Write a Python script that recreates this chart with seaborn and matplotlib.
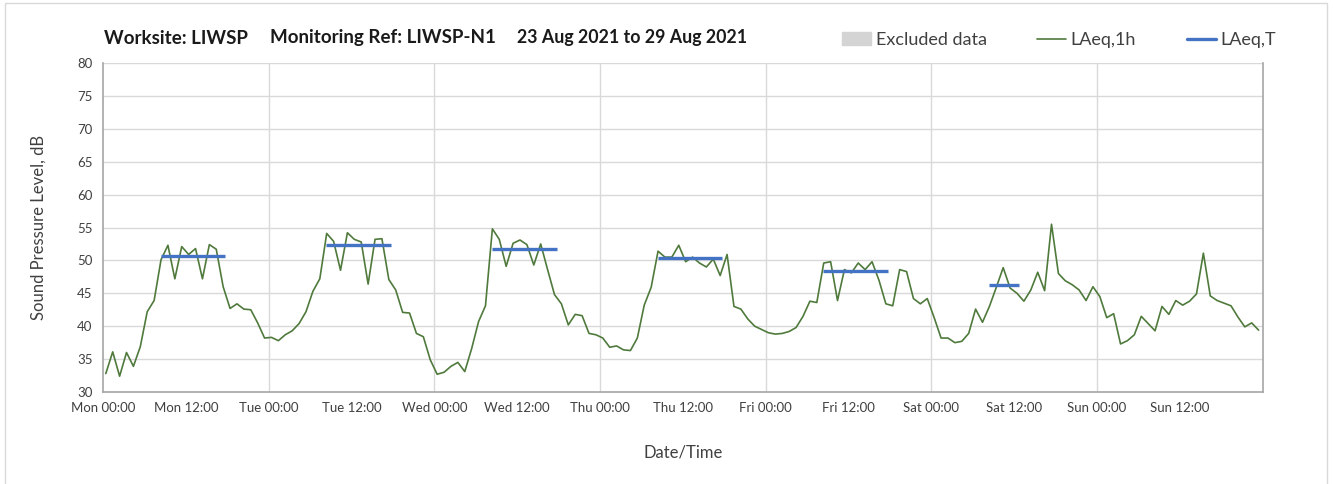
"""Hourly noise monitoring chart: LAeq,1h with daytime LAeq,T"""

import numpy as np
import pandas as pd
import matplotlib.pyplot as plt
import matplotlib.patches as mpatches
import matplotlib.lines as mlines
import seaborn as sns

# Hourly LAeq,1h readings, one list per day (00:00 .. 23:00)
mon = [32.8, 36.1, 32.4, 36.0, 33.9, 36.9, 42.2, 43.9, 50.1, 52.3, 47.2, 52.1,
       50.9, 51.8, 47.2, 52.4, 51.7, 46.0, 42.7, 43.4, 42.6, 42.5, 40.5, 38.2]
tue = [38.3, 37.8, 38.7, 39.3, 40.4, 42.2, 45.3, 47.2, 54.1, 52.9, 48.5, 54.2,
       53.2, 52.8, 46.4, 53.2, 53.3, 47.1, 45.5, 42.1, 42.0, 38.9, 38.4, 34.9]
wed = [32.7, 33.0, 33.9, 34.5, 33.1, 36.6, 40.7, 43.1, 54.8, 53.2, 49.1, 52.6,
       53.1, 52.4, 49.3, 52.5, 48.6, 44.8, 43.4, 40.2, 41.8, 41.6, 38.9, 38.7]
thu = [38.2, 36.8, 37.0, 36.4, 36.3, 38.2, 43.2, 45.9, 51.4, 50.5, 50.5, 52.3,
       49.8, 50.5, 49.6, 49.0, 50.2, 47.7, 50.9, 43.0, 42.6, 41.1, 40.0, 39.5]
fri = [39.0, 38.8, 38.9, 39.2, 39.8, 41.5, 43.8, 43.6, 49.6, 49.8, 43.9, 48.6,
       48.1, 49.6, 48.6, 49.8, 47.0, 43.4, 43.1, 48.6, 48.3, 44.2, 43.4, 44.2]
sat = [41.3, 38.2, 38.2, 37.5, 37.7, 38.9, 42.6, 40.6, 43.0, 45.9, 48.9, 45.8,
       45.0, 43.8, 45.5, 48.2, 45.4, 55.5, 48.0, 46.9, 46.3, 45.5, 43.9, 46.0]
sun = [44.5, 41.3, 41.9, 37.3, 37.8, 38.7, 41.5, 40.4, 39.3, 43.0, 41.8, 43.9,
       43.2, 43.8, 44.9, 51.1, 44.6, 43.9, 43.5, 43.1, 41.4, 39.9, 40.5, 39.4]

# Daytime LAeq,T per day (Mon..Sat), with the period start/end hours
laeq_t = [50.6, 52.3, 51.8, 50.3, 48.4, 46.2]
period_start = [8, 8, 8, 8, 8, 8]
period_end = [18, 18, 18, 18, 18, 13]

day_names = ["Mon", "Tue", "Wed", "Thu", "Fri", "Sat", "Sun"]

# Build hourly frame (x in hours since Mon 00:00, plotted mid-hour)
levels = mon + tue + wed + thu + fri + sat + sun
df = pd.DataFrame({"hour": np.arange(len(levels)) + 0.4, "LAeq1h": levels})

GREEN = "#4f7a3c"
BLUE = "#4472c4"
TXT = "#404040"

sns.set_theme(style="white")
plt.rcParams["font.family"] = ["Lato", "DejaVu Sans"]

fig = plt.figure(figsize=(13.33, 4.84), dpi=100)
ax = fig.add_axes([0.0773, 0.1901, 0.8700, 0.6797])

sns.lineplot(data=df, x="hour", y="LAeq1h", ax=ax, color=GREEN, linewidth=1.2)

for d, (val, s, e) in enumerate(zip(laeq_t, period_start, period_end)):
    ax.hlines(val, d * 24 + s + 0.35, d * 24 + e - 0.3, color=BLUE, linewidth=2.4)

# Axes styling
ax.set_xlim(0, 168)
ax.set_ylim(30, 80)
ax.set_yticks(np.arange(30, 81, 5))
ax.set_xticks(np.arange(0, 168, 12))
ax.set_xticklabels([f"{day_names[i // 2]} {'00' if i % 2 == 0 else '12'}:00"
                    for i in range(14)])
ax.tick_params(axis="both", labelsize=9.5, colors=TXT, length=4, width=0.8,
               direction="out")
ax.tick_params(axis="both", color="#a6a6a6")

for y in np.arange(35, 81, 5):
    ax.axhline(y, color="#d9d9d9", linewidth=1.0, zorder=0)
for x in np.arange(24, 168, 24):
    ax.axvline(x, color="#d9d9d9", linewidth=1.0, zorder=0)

for side in ["left", "bottom", "right"]:
    ax.spines[side].set_color("#a6a6a6")
    ax.spines[side].set_linewidth(1.2)
ax.spines["top"].set_visible(False)

ax.set_xlabel("Date/Time", fontsize=12, color=TXT, labelpad=22)
ax.set_ylabel("Sound Pressure Level, dB", fontsize=12, color=TXT, labelpad=22)

# Title pieces
title_y = 1 - 38 / 484
fig.text(104 / 1333, title_y, "Worksite: LIWSP", fontsize=13.5, fontweight="bold",
         color="#1a1a1a", va="center")
fig.text(270 / 1333, title_y, "Monitoring Ref: LIWSP-N1", fontsize=13.5,
         fontweight="bold", color="#1a1a1a", va="center")
fig.text(517 / 1333, title_y, "23 Aug 2021 to 29 Aug 2021", fontsize=12.8,
         fontweight="bold", color="#1a1a1a", va="center")

# Legend
handles = [
    mpatches.Patch(color="#d4d4d4", label="Excluded data"),
    mlines.Line2D([], [], color=GREEN, linewidth=1.2, label="LAeq,1h"),
    mlines.Line2D([], [], color=BLUE, linewidth=2.4, label="LAeq,T"),
]
leg = fig.legend(handles=handles, loc="center right", ncol=3, frameon=False,
                 bbox_to_anchor=(1292 / 1333, 1 - 40 / 484), fontsize=13,
                 handlelength=1.6, handletextpad=0.25, columnspacing=2.8,
                 labelcolor=TXT)

# Chart area border
fig.patches.append(mpatches.Rectangle((5 / 1333, -0.1), 1322 / 1333, 1.1 - 3 / 484,
                                      transform=fig.transFigure, fill=False,
                                      edgecolor="#d9d9d9", linewidth=1.0))

fig.savefig("out.png", dpi=100)
